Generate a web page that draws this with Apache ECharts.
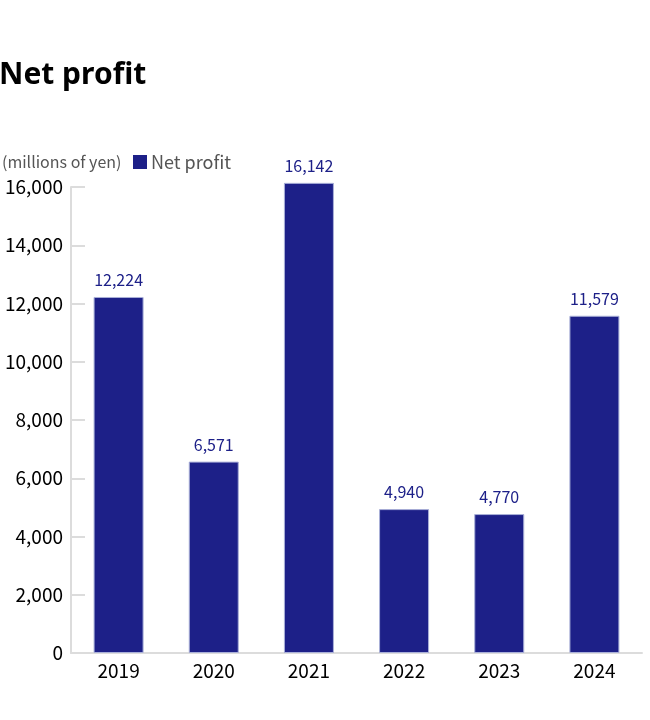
<!DOCTYPE html>
<html><head><meta charset="utf-8">
<script src="https://cdn.jsdelivr.net/npm/echarts@6/dist/echarts.min.js"></script>
<style>html,body{margin:0;padding:0;background:#fff}#c{width:650px;height:720px}</style>
</head><body><div id="c"></div>
<script>
const categories = ['2019','2020','2021','2022','2023','2024'];
const netProfit = [12224, 6571, 16142, 4940, 4770, 11579];
const seriesName = 'Net profit';
const unitLabel = '(millions of yen)';
const chartTitle = 'Net profit';

const FONT = '"Noto Sans CJK JP","Noto Sans",sans-serif';
const chart = echarts.init(document.getElementById('c'));
chart.setOption({
  animation: false,
  textStyle: { fontFamily: FONT },
  title: [
    { text: chartTitle, left: -6, top: 55, textStyle: { fontFamily: '"Noto Sans",sans-serif', fontSize: 30, fontWeight: 'bold', color: '#000' } },
    { text: unitLabel, left: -3, top: 149, textStyle: { fontFamily: FONT, fontSize: 16, fontWeight: 'normal', color: '#555' } }
  ],
  legend: {
    left: 128, top: 148, itemWidth: 14, itemHeight: 14, itemGap: 6,
    icon: 'rect',
    itemStyle: { borderWidth: 0 },
    textStyle: { fontFamily: FONT, fontSize: 18, color: '#555', padding: [0,0,0,-1] },
    data: [seriesName]
  },
  grid: { left: 71, top: 187, width: 571, height: 466, containLabel: false },
  xAxis: {
    type: 'category', data: categories,
    axisLine: { lineStyle: { color: '#dcdcdc', width: 2 } },
    axisTick: { show: false },
    axisLabel: { color: '#000', fontSize: 19, margin: 8, fontFamily: FONT }
  },
  yAxis: {
    type: 'value', min: 0, max: 16000, interval: 2000,
    axisLine: { show: true, lineStyle: { color: '#dcdcdc', width: 2 } },
    axisTick: { show: true, inside: true, length: 14, lineStyle: { color: '#dcdcdc', width: 2 } },
    splitLine: { show: false },
    axisLabel: { color: '#000', fontSize: 19, margin: 8, fontFamily: FONT,
      formatter: v => v.toLocaleString('en-US') }
  },
  series: [{
    name: seriesName, type: 'bar', data: netProfit, barWidth: 50, clip: false,
    itemStyle: { color: '#1d2088', borderColor: '#aab0d8', borderWidth: 1 },
    label: { show: true, position: 'top', distance: 9, color: '#1d2088', fontSize: 16, fontFamily: FONT,
      formatter: p => p.value.toLocaleString('en-US') }
  }]
});
</script></body></html>
